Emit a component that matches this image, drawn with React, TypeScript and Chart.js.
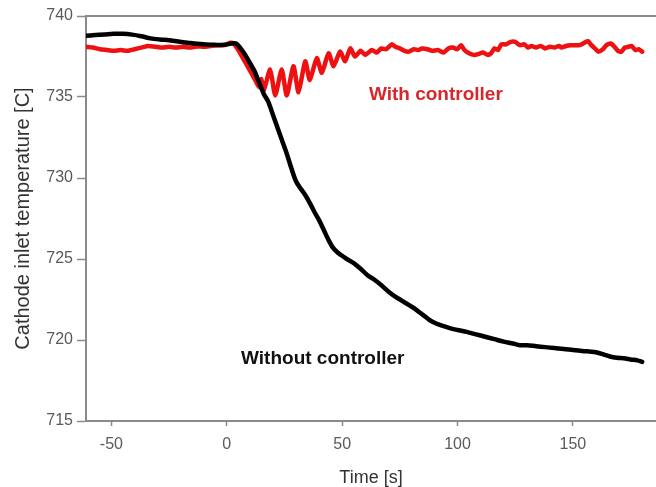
import React, { useEffect, useRef } from "react";
import { Chart, registerables } from "chart.js";

Chart.register(...registerables);

// ---- Data ----
const timeWithout = [
  -61, -57, -53, -49, -45, -41, -37, -33, -29, -25, -21, -17, -13, -9, -5, -1, 2, 4,
  6, 8, 10, 12, 14, 16, 18, 20, 22, 24, 26, 28, 30, 32, 34, 36, 38, 40, 42, 44, 46, 48,
  50, 52, 55, 58, 61, 64, 67, 70, 73, 76, 79, 82, 85, 88, 91, 94, 97, 100, 104, 108,
  112, 116, 120, 124, 127, 130, 134, 138, 142, 146, 150, 154, 158, 160, 163, 166, 169,
  172, 175, 178, 180,
];
const tempWithout = [
  738.78, 738.82, 738.86, 738.9, 738.9, 738.85, 738.75, 738.62, 738.55, 738.5, 738.42,
  738.35, 738.28, 738.24, 738.22, 738.22, 738.3, 738.3,
  738.0, 737.6, 737.1, 736.6, 735.9, 735.2, 734.7, 733.9, 733.1, 732.3, 731.5, 730.6,
  729.8, 729.35, 728.95, 728.45, 727.9, 727.4, 726.8, 726.2, 725.7, 725.4,
  725.2, 725.0, 724.75, 724.4, 724.0, 723.72, 723.38, 723.0, 722.68, 722.42, 722.15,
  721.88, 721.55, 721.22, 721.0, 720.85, 720.72, 720.62, 720.5, 720.35,
  720.2, 720.05, 719.9, 719.78, 719.68, 719.68, 719.62, 719.56, 719.5, 719.45, 719.38,
  719.32, 719.28, 719.24, 719.12, 718.98, 718.9, 718.87, 718.8, 718.74, 718.65,
];

const timeWith = [
  -61, -58, -55, -52, -49, -46, -43, -40, -37, -34, -31, -28, -25, -22, -19, -16, -13,
  -10, -7, -4, -1, 1.5, 3, 5, 7, 9, 11, 12.5, 14, 15, 16, 18.8, 21, 23.8, 26, 28.9,
  31.1, 34, 36, 39, 41.2, 44.1, 46.3, 49.1, 51.3, 53.5, 55.6, 58, 60, 62.9, 65, 67, 69,
  71.5, 73, 75, 77, 78.8, 81, 83, 84.6, 87, 89, 91.5, 94, 96, 98, 100, 101.5, 103, 105,
  107, 109, 111, 113, 114.5, 116, 117.5, 119, 121, 123, 125, 127, 129, 130.5, 132, 134,
  136, 138, 140, 142, 144, 145, 147, 149, 151, 153, 155, 156.5, 158, 159.5, 161, 163,
  164.5, 166.5, 168, 169.5, 171, 172.5, 174, 175.5, 177, 178.5, 180,
];
const tempWith = [
  738.1, 738.05, 737.95, 737.9, 737.85, 737.9, 737.85, 737.95, 738.05, 738.15, 738.1,
  738.05, 738.1, 738.05, 738.1, 738.05, 738.12, 738.1, 738.15, 738.2, 738.2, 738.35,
  738.3, 737.9, 737.4, 736.9, 736.4, 736.0, 735.6, 736.1, 735.4, 736.7, 735.1, 736.7,
  735.1, 736.9, 735.3, 737.2, 736.05, 737.4, 736.5, 737.7, 736.9, 737.8, 737.2, 738.0,
  737.5, 737.85, 737.6, 737.9, 737.75, 738.0, 737.95, 738.25, 738.1, 738.0, 737.85,
  737.8, 737.95, 737.9, 738.0, 737.95, 737.85, 737.9, 737.75, 738.0, 738.05, 737.95,
  738.2, 737.9, 737.7, 737.6, 737.65, 737.75, 737.6, 737.7, 738.0, 737.9, 738.25,
  738.25, 738.4, 738.4, 738.2, 738.25, 738.05, 738.15, 738.05, 738.15, 738.0, 738.1,
  738.05, 738.15, 738.05, 738.15, 738.2, 738.2, 738.2, 738.35, 738.45, 738.2, 738.0,
  737.8, 737.95, 738.2, 738.3, 738.1, 737.85, 737.8, 738.05, 738.1, 738.15, 737.9,
  737.95, 737.8,
];

const xTickValues = [-50, 0, 50, 100, 150];
const xMin = -61;
const xMax = 186;
const yMin = 715;
const yMax = 740;
const yStep = 5;

const xTitle = "Time [s]";
const yTitle = "Cathode inlet temperature [C]";
const labelWith = "With controller";
const labelWithout = "Without controller";
// annotation anchor points in data units
const labelWithPos = { x: 61.6, y: 735.13 };
const labelWithoutPos = { x: 6.2, y: 718.85 };

const FONT = "'Liberation Sans', Arial, Helvetica, sans-serif";
const AXIS_GREY = "#8a8a8a";

const annotationPlugin = {
  id: "annotations",
  afterDatasetsDraw(chart: any) {
    const { ctx, chartArea, scales } = chart;
    ctx.save();
    // top frame line
    ctx.strokeStyle = AXIS_GREY;
    ctx.lineWidth = 2;
    ctx.beginPath();
    ctx.moveTo(chartArea.left, chartArea.top);
    ctx.lineTo(chartArea.right, chartArea.top);
    ctx.stroke();

    ctx.textAlign = "left";
    ctx.textBaseline = "middle";
    ctx.font = `bold 19px ${FONT}`;
    ctx.fillStyle = "#d8262c";
    ctx.fillText(
      labelWith,
      scales.x.getPixelForValue(labelWithPos.x),
      scales.y.getPixelForValue(labelWithPos.y)
    );
    ctx.fillStyle = "#111111";
    ctx.fillText(
      labelWithout,
      scales.x.getPixelForValue(labelWithoutPos.x),
      scales.y.getPixelForValue(labelWithoutPos.y)
    );
    ctx.restore();
  },
};

export default function App() {
  const canvasRef = useRef<HTMLCanvasElement | null>(null);

  useEffect(() => {
    if (!canvasRef.current) return;
    const chart = new Chart(canvasRef.current, {
      type: "line",
      data: {
        datasets: [
          {
            label: labelWithout,
            data: timeWithout.map((t, i) => ({ x: t, y: tempWithout[i] })),
            borderColor: "#000000",
            borderWidth: 4.5,
            pointRadius: 0,
            tension: 0.3,
            borderCapStyle: "round",
            borderJoinStyle: "round",
          },
          {
            label: labelWith,
            data: timeWith.map((t, i) => ({ x: t, y: tempWith[i] })),
            borderColor: "#ee1111",
            borderWidth: 4.5,
            pointRadius: 0,
            tension: 0.2,
            borderCapStyle: "round",
            borderJoinStyle: "round",
          },
        ],
      },
      options: {
        animation: false,
        responsive: true,
        maintainAspectRatio: false,
        layout: { padding: { top: 16, right: 0, bottom: 0, left: 0 } },
        plugins: {
          legend: { display: false },
          tooltip: { enabled: false },
        },
        scales: {
          x: {
            type: "linear",
            min: xMin,
            max: xMax,
            afterBuildTicks: (scale: any) => {
              scale.ticks = xTickValues.map((v) => ({ value: v }));
            },
            afterFit: (scale: any) => {
              scale.height = 66;
            },
            border: { display: true, color: AXIS_GREY, width: 2 },
            grid: {
              drawOnChartArea: false,
              drawTicks: true,
              tickLength: 5,
              tickColor: AXIS_GREY,
              tickWidth: 1.5,
            },
            ticks: {
              color: "#5a5a5a",
              font: { family: FONT, size: 16 },
              padding: 9,
              maxRotation: 0,
              autoSkip: false,
            },
            title: {
              display: true,
              text: xTitle,
              color: "#333333",
              font: { family: FONT, size: 18 },
              padding: { top: 0, bottom: -2 },
            },
          },
          y: {
            type: "linear",
            min: yMin,
            max: yMax,
            afterFit: (scale: any) => {
              scale.width = 86;
            },
            border: { display: true, color: AXIS_GREY, width: 2 },
            grid: {
              drawOnChartArea: false,
              drawTicks: true,
              tickLength: 9,
              tickColor: AXIS_GREY,
              tickWidth: 1.5,
            },
            ticks: {
              stepSize: yStep,
              color: "#5a5a5a",
              font: { family: FONT, size: 16 },
              padding: 4,
            },
            title: {
              display: true,
              text: yTitle,
              color: "#333333",
              font: { family: FONT, size: 20 },
              padding: { top: 11, bottom: 0 },
            },
          },
        },
      },
      plugins: [annotationPlugin],
    });
    return () => chart.destroy();
  }, []);

  return (
    <div
      style={{
        position: "absolute",
        left: 0,
        top: 0,
        width: 656,
        height: 487,
        background: "#ffffff",
      }}
    >
      <canvas ref={canvasRef} />
    </div>
  );
}
